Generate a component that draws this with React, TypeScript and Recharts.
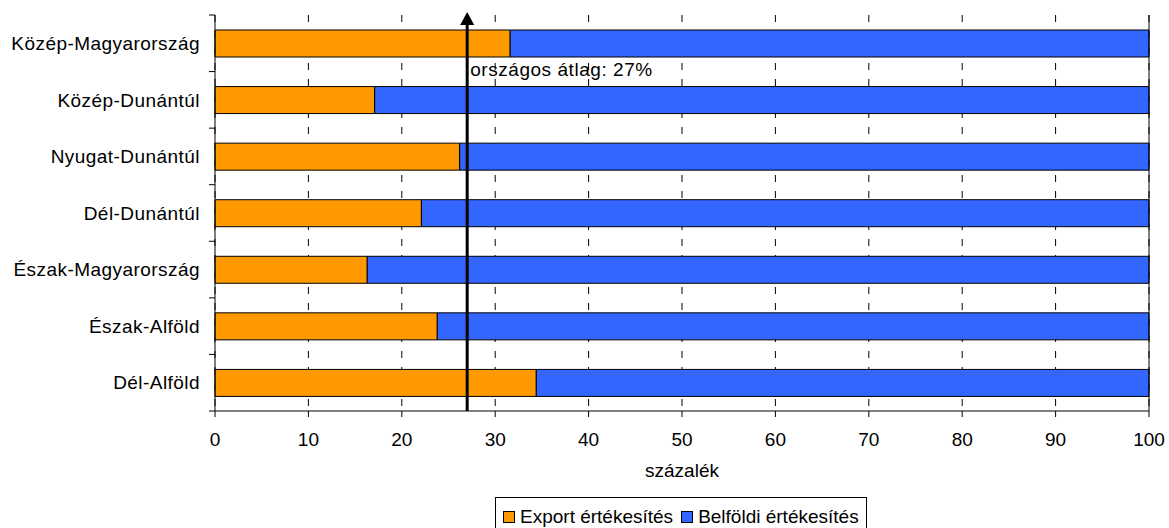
import React from 'react';
import { Bar, BarChart, CartesianGrid, ReferenceLine, XAxis, YAxis } from 'recharts';

const regions = [
  'Közép-Magyarország',
  'Közép-Dunántúl',
  'Nyugat-Dunántúl',
  'Dél-Dunántúl',
  'Észak-Magyarország',
  'Észak-Alföld',
  'Dél-Alföld',
];
const exportShare = [31.6, 17.1, 26.2, 22.1, 16.3, 23.8, 34.4];
const domesticShare = [68.4, 82.9, 73.8, 77.9, 83.7, 76.2, 65.6];
const xTicks = [0, 10, 20, 30, 40, 50, 60, 70, 80, 90, 100];
const nationalAverage = 27;
const averageLabel = 'országos átlag: 27%';
const xAxisTitle = 'százalék';
const seriesNames = ['Export értékesítés', 'Belföldi értékesítés'];
const seriesColors = ['#FF9900', '#3366FF'];

const chartData = regions.map((name, i) => ({
  name,
  exportShare: exportShare[i],
  domesticShare: domesticShare[i],
}));

const FONT = '"Liberation Sans", Arial, sans-serif';

// category ticks sit on the band edges, labels on the band centres
const RegionTick = (props: any) => {
  const { x, y, payload, index, visibleTicksCount } = props;
  const half = payload?.offset || (props.height ? props.height / visibleTicksCount / 2 : 0);
  return (
    <g>
      <line x1={x - 6} x2={x} y1={y - half} y2={y - half} stroke="#000" />
      {index === visibleTicksCount - 1 && (
        <line x1={x - 6} x2={x} y1={y + half} y2={y + half} stroke="#000" />
      )}
      <text
        x={x - 15}
        y={y}
        dy="0.355em"
        textAnchor="end"
        fontSize={19}
        letterSpacing={0.45}
        fill="#000"
        fontFamily={FONT}
      >
        {payload.value}
      </text>
    </g>
  );
};

const ArrowLine = (p: any) => {
  const x = p.x1;
  const top = Math.min(p.y1, p.y2);
  const bottom = Math.max(p.y1, p.y2);
  const base = top + 10;
  return (
    <g>
      <line x1={x} x2={x} y1={bottom} y2={base} stroke="#000" strokeWidth={3} />
      <polygon points={`${x - 7},${base} ${x + 7},${base} ${x},${top - 3}`} fill="#000" />
    </g>
  );
};

const AverageLabel = (p: any) => (
  <text x={p.viewBox.x + 3} y={p.viewBox.y + 61} fontSize={19} letterSpacing={0.55} fill="#000" fontFamily={FONT}>
    {averageLabel}
  </text>
);

const LegendBox = () => (
  <div
    style={{
      position: 'absolute',
      left: 495,
      top: 497,
      width: 372,
      height: 40,
      border: '1px solid #000',
      boxSizing: 'border-box',
      paddingTop: 8,
      paddingLeft: 7,
      fontFamily: FONT,
      fontSize: 19,
      background: '#fff',
    }}
  >
    <div style={{ display: 'flex', alignItems: 'center', height: 22, lineHeight: '22px' }}>
      {seriesNames.map((name, i) => (
        <React.Fragment key={name}>
          <span
            style={{
              display: 'inline-block',
              width: 10,
              height: 10,
              border: '1px solid #000',
              background: seriesColors[i],
              marginLeft: i === 0 ? 0 : 8,
              marginRight: 5,
            }}
          />
          <span>{name}</span>
        </React.Fragment>
      ))}
    </div>
  </div>
);

export default function App() {
  return (
    <div style={{ position: 'relative', width: 1169, height: 528, overflow: 'hidden', background: '#fff' }}>
      <style>{'body{margin:0}'}</style>
      <BarChart
        width={1169}
        height={528}
        data={chartData}
        layout="vertical"
        margin={{ top: 15, right: 20, bottom: 47, left: 0 }}
        barSize={27}
      >
        <CartesianGrid horizontal={false} stroke="#000" strokeDasharray="7 9" />
        <XAxis
          type="number"
          domain={[0, 100]}
          ticks={xTicks}
          tickSize={6}
          tickMargin={16}
          height={70}
          tick={{ fill: '#000', fontSize: 19, fontFamily: FONT }}
          axisLine={{ stroke: '#000' }}
          tickLine={{ stroke: '#000' }}
          label={{ value: xAxisTitle, position: 'insideBottom', offset: 4, fill: '#000', fontSize: 19, fontFamily: FONT }}
        />
        <XAxis
          xAxisId="top"
          orientation="top"
          type="number"
          domain={[0, 100]}
          height={0}
          tick={false}
          tickLine={false}
          axisLine={{ stroke: '#000' }}
        />
        <YAxis
          type="category"
          dataKey="name"
          width={215}
          tickSize={0}
          tickMargin={0}
          tickLine={false}
          axisLine={{ stroke: '#000' }}
          tick={<RegionTick />}
          interval={0}
        />
        <Bar dataKey="exportShare" name={seriesNames[0]} stackId="s" fill={seriesColors[0]} stroke="#000" strokeWidth={1} isAnimationActive={false} />
        <Bar dataKey="domesticShare" name={seriesNames[1]} stackId="s" fill={seriesColors[1]} stroke="#000" strokeWidth={1} isAnimationActive={false} />
        <ReferenceLine x={100} stroke="#000" />
        <ReferenceLine x={nationalAverage} shape={<ArrowLine />} label={<AverageLabel />} />
      </BarChart>
      <LegendBox />
    </div>
  );
}
